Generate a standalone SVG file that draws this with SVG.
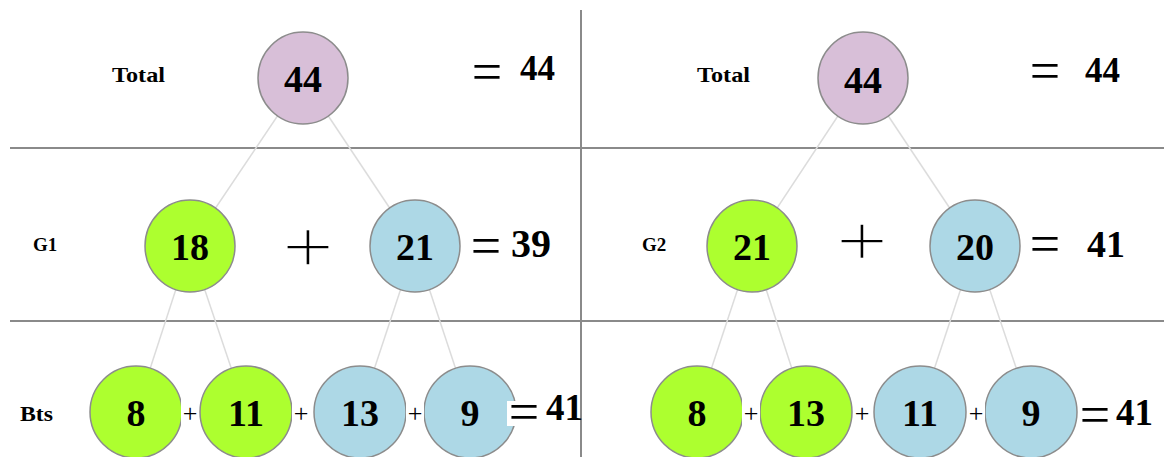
<svg xmlns="http://www.w3.org/2000/svg" width="1164" height="457" viewBox="0 0 1164 457">
<style>
.grid{stroke:#8a8a8a;stroke-width:2;fill:none}
.edge{stroke:#dcdcdc;stroke-width:1.5;fill:none}
.n{stroke:#8c8c8c;stroke-width:1.5}
.p{fill:#D8BFD8}.g{fill:#ADFF2F}.b{fill:#ADD8E6}
.num{font-family:"Liberation Serif",serif;font-weight:bold;font-size:38px;text-anchor:middle;fill:#000}
.lbl{font-family:"Liberation Serif",serif;font-weight:bold;fill:#000}
.op{font-family:"Liberation Serif",serif;fill:#000;text-anchor:middle;font-size:54px}
.big{font-family:"Liberation Serif",serif;fill:#000;text-anchor:middle;font-size:92px;stroke:#fff;stroke-width:2}
.sp{font-family:"Liberation Serif",serif;font-size:26px;text-anchor:middle;fill:#000}
.bg{fill:#fff}
</style>
<rect width="1164" height="457" fill="#fff"/>
<g id="grid">
<line class="grid" x1="581" y1="10" x2="581" y2="457"/>
<line class="grid" x1="10" y1="148" x2="1164" y2="148"/>
<line class="grid" x1="10" y1="321" x2="1164" y2="321"/>
</g>
<g id="connectors">
<line class="edge" x1="303" y1="78" x2="190" y2="246"/>
<line class="edge" x1="303" y1="78" x2="415" y2="246"/>
<line class="edge" x1="190" y1="246" x2="136" y2="412"/>
<line class="edge" x1="190" y1="246" x2="246" y2="412"/>
<line class="edge" x1="415" y1="246" x2="360" y2="412"/>
<line class="edge" x1="415" y1="246" x2="470" y2="412"/>
<line class="edge" x1="863" y1="78" x2="752" y2="246"/>
<line class="edge" x1="863" y1="78" x2="975" y2="246"/>
<line class="edge" x1="752" y1="246" x2="697" y2="412"/>
<line class="edge" x1="752" y1="246" x2="806" y2="412"/>
<line class="edge" x1="975" y1="246" x2="920" y2="412"/>
<line class="edge" x1="975" y1="246" x2="1031" y2="412"/>
</g>
<g id="labels">
<text class="lbl" x="112" y="82" font-size="22" textLength="53" lengthAdjust="spacingAndGlyphs">Total</text>
<text class="lbl" x="697" y="82" font-size="22" textLength="53" lengthAdjust="spacingAndGlyphs">Total</text>
<text class="lbl" x="33" y="251" font-size="19">G1</text>
<text class="lbl" x="642" y="251" font-size="19">G2</text>
<text class="lbl" x="20" y="421" font-size="21" textLength="33" lengthAdjust="spacingAndGlyphs">Bts</text>
</g>
<g id="n-total-1"><ellipse class="n p" cx="303" cy="78" rx="45" ry="46"/><text class="num" x="303" y="92">44</text></g>
<g id="n-total-2"><ellipse class="n p" cx="863" cy="78" rx="45" ry="46"/><text class="num" x="863" y="93">44</text></g>
<g id="n-g1-a"><ellipse class="n g" cx="190" cy="246" rx="45" ry="46"/><text class="num" x="190" y="260">18</text></g>
<g id="n-g1-b"><ellipse class="n b" cx="415" cy="246" rx="45" ry="46"/><text class="num" x="415" y="260">21</text></g>
<g id="n-g2-a"><ellipse class="n g" cx="752" cy="246" rx="45" ry="46"/><text class="num" x="752" y="260">21</text></g>
<g id="n-g2-b"><ellipse class="n b" cx="975" cy="246" rx="45" ry="46"/><text class="num" x="975" y="260">20</text></g>
<g id="n-b1-a"><ellipse class="n g" cx="136" cy="412" rx="46" ry="46"/><text class="num" x="136" y="426">8</text></g>
<g id="n-b1-b"><ellipse class="n g" cx="246" cy="412" rx="46" ry="46"/><text class="num" x="246" y="426">11</text></g>
<g id="n-b1-c"><ellipse class="n b" cx="360" cy="412" rx="46" ry="46"/><text class="num" x="360" y="426">13</text></g>
<g id="n-b1-d"><ellipse class="n b" cx="470" cy="412" rx="46" ry="46"/><text class="num" x="470" y="426">9</text></g>
<g id="n-b2-a"><ellipse class="n g" cx="697" cy="412" rx="46" ry="46"/><text class="num" x="697" y="426">8</text></g>
<g id="n-b2-b"><ellipse class="n g" cx="806" cy="412" rx="46" ry="46"/><text class="num" x="806" y="426">13</text></g>
<g id="n-b2-c"><ellipse class="n b" cx="920" cy="412" rx="46" ry="46"/><text class="num" x="920" y="426">11</text></g>
<g id="n-b2-d"><ellipse class="n b" cx="1031" cy="412" rx="46" ry="46"/><text class="num" x="1031" y="426">9</text></g>
<g id="ops">
<text class="op" x="487" y="90">=</text>
<text class="lbl" x="520" y="80" font-size="35">44</text>
<text class="op" x="1045" y="89">=</text>
<text class="lbl" x="1085" y="82" font-size="35">44</text>
<text class="big" transform="translate(308,250) scale(1,0.82)" x="0" y="27">+</text>
<text class="big" transform="translate(862,244) scale(1,0.8)" x="0" y="27">+</text>
<text class="op" x="486" y="264">=</text>
<text class="lbl" x="511" y="257" font-size="40">39</text>
<text class="op" x="1045" y="262">=</text>
<text class="lbl" x="1087" y="257" font-size="38">41</text>
<rect class="bg" x="181" y="398" width="18" height="28"/>
<text class="sp" x="190" y="422">+</text>
<rect class="bg" x="292" y="398" width="18" height="28"/>
<text class="sp" x="301" y="422">+</text>
<rect class="bg" x="406" y="398" width="18" height="28"/>
<text class="sp" x="415" y="422">+</text>
<rect class="bg" x="507" y="401" width="32" height="25"/>
<text class="op" x="524" y="430">=</text>
<text class="lbl" x="546" y="420" font-size="37">41</text>
<rect class="bg" x="742" y="398" width="18" height="28"/>
<text class="sp" x="751" y="422">+</text>
<rect class="bg" x="853" y="398" width="18" height="28"/>
<text class="sp" x="862" y="422">+</text>
<rect class="bg" x="967" y="398" width="18" height="28"/>
<text class="sp" x="976" y="422">+</text>
<rect class="bg" x="1080" y="402" width="32" height="26"/>
<text class="op" x="1095" y="433">=</text>
<text class="lbl" x="1116" y="425" font-size="37">41</text>
</g>
</svg>
